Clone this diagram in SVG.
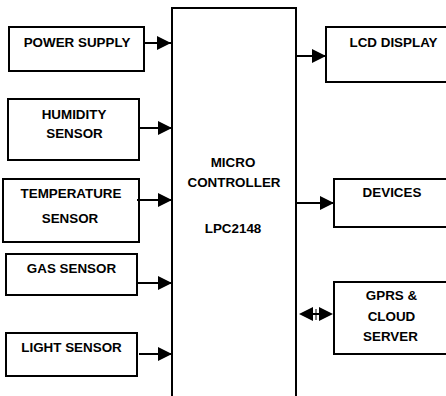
<svg xmlns="http://www.w3.org/2000/svg" width="446" height="396" viewBox="0 0 446 396">
<style>
.box{fill:#fff;stroke:#000;stroke-width:2}
.t{font-family:"Liberation Sans",Arial,sans-serif;font-weight:bold;font-size:13.4px;text-anchor:middle;fill:#000}
.c{stroke:#000;stroke-width:2;fill:none}
</style>
<defs>
<marker id="ah" markerUnits="userSpaceOnUse" markerWidth="15" markerHeight="16" refX="14" refY="7" orient="auto" viewBox="0 0 15 16">
<path d="M0,0 L14,7 L0,14 Z" fill="#000"/>
</marker>
</defs>
<rect width="446" height="396" fill="#fff"/>
<g id="mcu">
<rect class="box" x="172" y="8" width="124" height="400"/>
<text class="t" x="233" y="167">MICRO</text>
<text class="t" x="234" y="187">CONTROLLER</text>
<text class="t" x="233" y="233">LPC2148</text>
</g>
<g id="power">
<rect class="box" x="9" y="27" width="135" height="44"/>
<text class="t" x="77" y="47">POWER SUPPLY</text>
</g>
<g id="humidity">
<rect class="box" x="8" y="99" width="131" height="61"/>
<text class="t" x="74" y="118.5">HUMIDITY</text>
<text class="t" x="74.5" y="138">SENSOR</text>
</g>
<g id="temperature">
<rect class="box" x="3" y="179" width="136" height="63"/>
<text class="t" x="71" y="198">TEMPERATURE</text>
<text class="t" x="70" y="223">SENSOR</text>
</g>
<g id="gas">
<rect class="box" x="6" y="254" width="131" height="41"/>
<text class="t" x="71.5" y="273">GAS SENSOR</text>
</g>
<g id="light">
<rect class="box" x="6" y="333" width="131" height="43"/>
<text class="t" x="71.5" y="352">LIGHT SENSOR</text>
</g>
<g id="lcd">
<rect class="box" x="326" y="27" width="130" height="55"/>
<text class="t" x="393.5" y="47">LCD DISPLAY</text>
</g>
<g id="devices">
<rect class="box" x="334" y="179" width="130" height="48"/>
<text class="t" x="392" y="197">DEVICES</text>
</g>
<g id="gprs">
<rect class="box" x="334" y="282" width="130" height="72"/>
<text class="t" x="391.5" y="300">GPRS &amp;</text>
<text class="t" x="391.5" y="321">CLOUD</text>
<text class="t" x="390.5" y="340.5">SERVER</text>
</g>
<g id="connectors">
<path class="c" d="M144,43 H171" marker-end="url(#ah)"/>
<path class="c" d="M139,128 H172" marker-end="url(#ah)"/>
<path class="c" d="M137,200 H172" marker-end="url(#ah)"/>
<path class="c" d="M137,283 H172" marker-end="url(#ah)"/>
<path class="c" d="M139,354 H172" marker-end="url(#ah)"/>
<path class="c" d="M296,56 H326" marker-end="url(#ah)"/>
<path class="c" d="M296,203 H334" marker-end="url(#ah)"/>
<path d="M299,314 L313,307 L313,321 Z" fill="#000"/>
<path d="M333,314 L319,307 L319,321 Z" fill="#000"/>
<path class="c" d="M313,314 H319"/>
<path d="M316,309 V320" stroke="#000" stroke-width="1"/>
</g>
</svg>
